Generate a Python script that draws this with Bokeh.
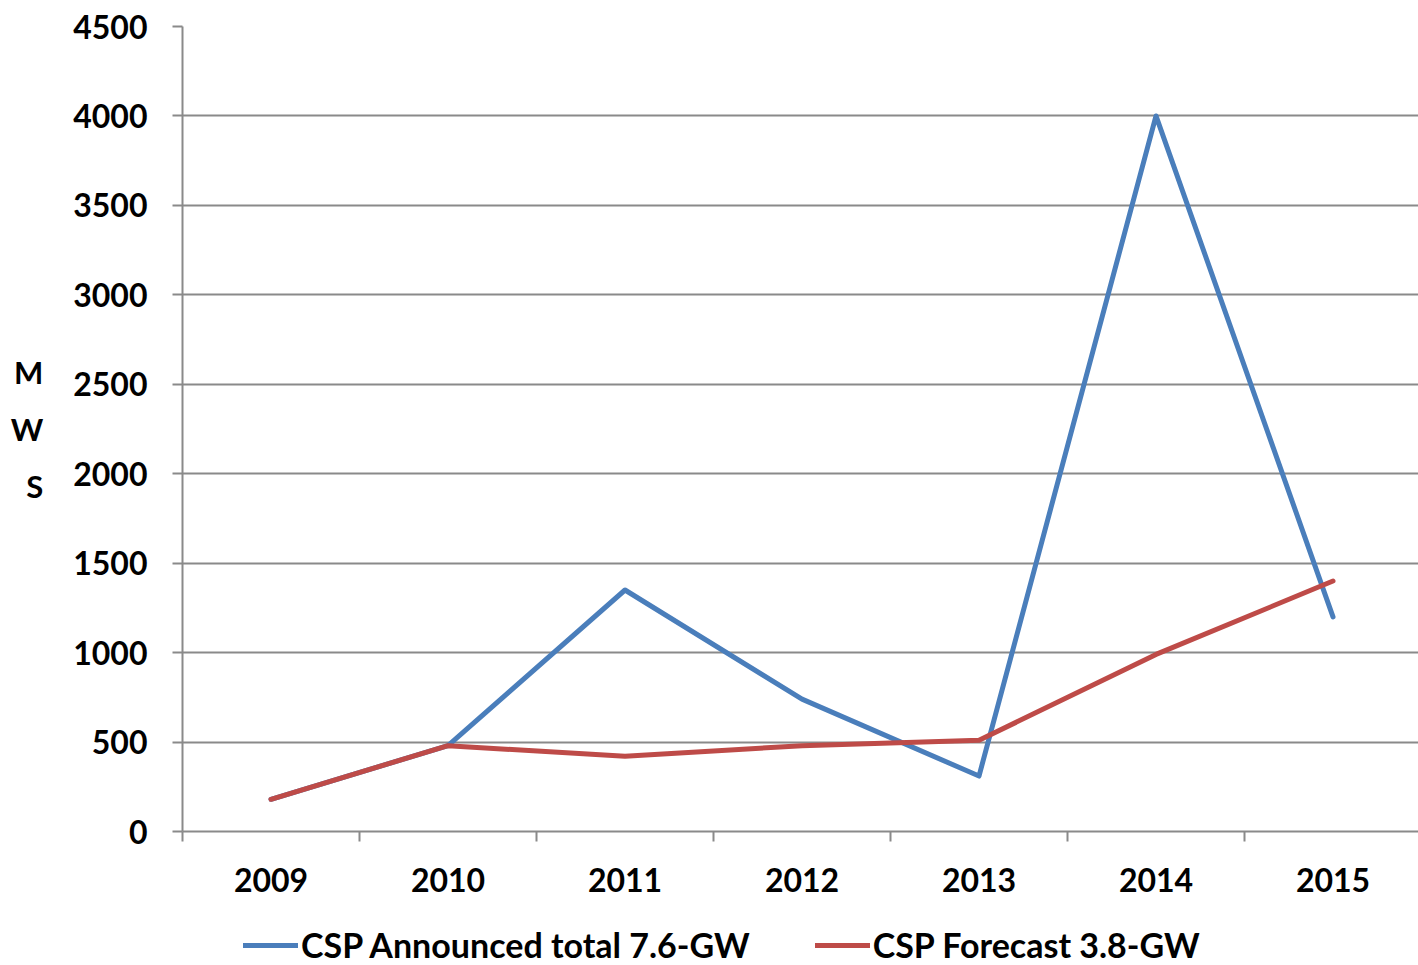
from bokeh.plotting import figure
from bokeh.layouts import column
from bokeh.models import FixedTicker, Legend, LegendItem, Range1d
from bokeh.embed import file_html
from bokeh.resources import INLINE

years = ["2009", "2010", "2011", "2012", "2013", "2014", "2015"]
announced = [180, 480, 1350, 740, 310, 4000, 1200]
forecast = [180, 480, 420, 480, 510, 990, 1400]
y_ticks = [0, 500, 1000, 1500, 2000, 2500, 3000, 3500, 4000, 4500]
series_names = ["CSP Announced total 7.6-GW", "CSP Forecast 3.8-GW"]
series_colors = ["#4a7ebb", "#be4b48"]

FONT = "Lato"
GRAY = "#8a8a8a"
LW = 5
xs = list(range(len(years)))

p = figure(width=1418, height=905, output_backend="svg", toolbar_location=None,
           x_range=Range1d(-0.5, 6.483), y_range=Range1d(0, 4500),
           min_border_left=182, min_border_right=0, min_border_top=26,
           min_border_bottom=74)
p.outline_line_color = None

p.line(xs, announced, line_color=series_colors[0], line_width=LW, line_cap="round", line_join="round")
p.line(xs, forecast, line_color=series_colors[1], line_width=LW, line_cap="round", line_join="round")

# Y axis
ya = p.yaxis[0]
ya.ticker = FixedTicker(ticks=y_ticks)
ya.major_tick_out = 10
ya.major_tick_in = 0
ya.major_tick_line_color = GRAY
ya.major_tick_line_width = 2
ya.minor_tick_line_color = None
ya.axis_line_color = GRAY
ya.axis_line_width = 2
ya.major_label_standoff = 25
ya.major_label_text_font = FONT
ya.major_label_text_font_style = "bold"
ya.major_label_text_font_size = "32px"
ya.major_label_text_color = "black"
ya.axis_label = "M\nW\nS"
ya.axis_label_orientation = "horizontal"
ya.axis_label_text_font = FONT
ya.axis_label_text_font_style = "bold"
ya.axis_label_text_font_size = "31px"
ya.axis_label_text_color = "black"
ya.axis_label_text_line_height = 1.5
ya.axis_label_standoff = 27

# X axis
xa = p.xaxis[0]
xa.ticker = FixedTicker(ticks=xs, minor_ticks=[i - 0.5 for i in xs])
xa.major_label_overrides = {i: y for i, y in zip(xs, years)}
xa.major_tick_line_color = None
xa.major_tick_out = 10
xa.major_tick_in = 0
xa.minor_tick_out = 10
xa.minor_tick_in = 0
xa.minor_tick_line_color = GRAY
xa.minor_tick_line_width = 2
xa.axis_line_color = GRAY
xa.axis_line_width = 2
xa.major_label_standoff = 26
xa.major_label_text_font = FONT
xa.major_label_text_font_style = "bold"
xa.major_label_text_font_size = "32px"
xa.major_label_text_color = "black"

p.xgrid.visible = False
p.ygrid.ticker = FixedTicker(ticks=y_ticks)
p.ygrid.grid_line_color = GRAY
p.ygrid.grid_line_width = 2

# Legend strip below the chart (its frame aligns with the chart frame)
lg = figure(width=1418, height=60, output_backend="svg", toolbar_location=None,
            x_range=Range1d(0, 1), y_range=Range1d(0, 1),
            min_border_left=0, min_border_right=0, min_border_top=0, min_border_bottom=0)
lg.axis.visible = False
lg.grid.visible = False
lg.outline_line_color = None
items = []
for name, col in zip(series_names, series_colors):
    # off-range placeholder so the legend swatch is drawn; nothing visible in the strip
    r = lg.line([-10, -9], [-10, -9], line_color=col, line_width=LW, line_cap="round")
    items.append(LegendItem(label=name, renderers=[r]))
legend = Legend(items=items, orientation="horizontal", location=(61, 0),
                label_text_font=FONT, label_text_font_style="bold",
                label_text_font_size="34px", label_text_color="black",
                glyph_width=55, label_standoff=3, spacing=65, padding=0,
                margin=0, border_line_color=None, background_fill_alpha=0)
lg.add_layout(legend, "center")

layout = column(p, lg, spacing=0)
open("out.html", "w").write(file_html(layout, INLINE))
